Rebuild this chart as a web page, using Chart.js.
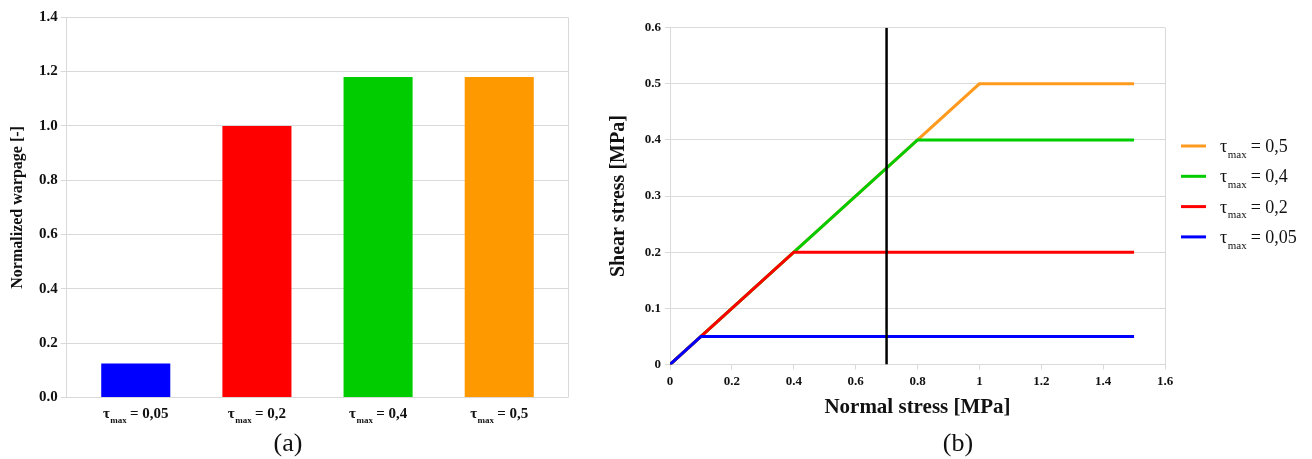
<!DOCTYPE html>
<html><head><meta charset="utf-8">
<script src="https://cdn.jsdelivr.net/npm/chart.js@4.4.1/dist/chart.umd.min.js"></script>
<style>
html,body{margin:0;padding:0;background:#fff;width:1312px;height:459px;overflow:hidden}
#wa{position:absolute;left:0;top:0;width:576px;height:459px}
#wb{position:absolute;left:604px;top:0;width:708px;height:459px}
.cap{position:absolute;top:443px;font-family:"Liberation Serif","Times New Roman",serif;font-size:26px;line-height:30px;color:#111;transform:translate(-50%,-50%);white-space:nowrap}
</style></head><body>
<div id="wa"><canvas id="ca"></canvas></div>
<div id="wb"><canvas id="cb"></canvas></div>
<div class="cap" style="left:288px">(a)</div>
<div class="cap" style="left:958px">(b)</div>
<script>
// ---------- data: chart (a) ----------
const warpCategories = ['0,05', '0,2', '0,4', '0,5'];
const warpValues = [0.125, 1.0, 1.18, 1.18];
const warpTicks = [0, 0.2, 0.4, 0.6, 0.8, 1.0, 1.2, 1.4];
// ---------- data: chart (b) ----------
const tau05X = [0, 1.0, 1.5],  tau05Y = [0, 0.5, 0.5];
const tau04X = [0, 0.8, 1.5],  tau04Y = [0, 0.4, 0.4];
const tau02X = [0, 0.4, 1.5],  tau02Y = [0, 0.2, 0.2];
const tau005X = [0, 0.1, 1.5], tau005Y = [0, 0.05, 0.05];
const markerX = [0.7, 0.7],    markerY = [0, 0.6];

// ---------- styles ----------
const SERIF = '"Liberation Serif", "Times New Roman", serif';
const GRID = '#d9d9d9';
const TXT = '#111';
const warpColors = ['#0000ff', '#ff0000', '#00cc00', '#ff9900'];

Chart.defaults.font.family = SERIF;
Chart.defaults.color = TXT;

function pts(xs, ys) { return xs.map((x, i) => ({x: x, y: ys[i]})); }

function drawTau(ctx, x, y, value, size, bold, align) {
  const w = bold ? 'bold ' : '';
  const main = w + size + 'px ' + SERIF;
  const sub = w + Math.round(size * 0.62) + 'px ' + SERIF;
  ctx.font = main; const w1 = ctx.measureText('τ').width;
  ctx.font = sub;  const w2 = ctx.measureText('max').width;
  const rest = ' = ' + value;
  ctx.font = main; const w3 = ctx.measureText(rest).width;
  const total = w1 + w2 + w3;
  const x0 = align === 'center' ? x - total / 2 : x;
  ctx.fillStyle = TXT;
  ctx.textAlign = 'left'; ctx.textBaseline = 'alphabetic';
  ctx.font = main; ctx.fillText('τ', x0, y);
  ctx.font = sub;  ctx.fillText('max', x0 + w1 + 0.5, y + size * 0.32);
  ctx.font = main; ctx.fillText(rest, x0 + w1 + w2, y);
}

const framePlugin = {
  id: 'frame',
  beforeDatasetsDraw(chart) {
    const {ctx, chartArea: a} = chart;
    ctx.save();
    ctx.strokeStyle = GRID; ctx.lineWidth = 1;
    const xr = Math.round(a.right) + 0.5;
    ctx.beginPath(); ctx.moveTo(xr, a.top); ctx.lineTo(xr, a.bottom); ctx.stroke();
    ctx.restore();
  }
};

// ---------- chart (a) ----------
const catLabelPlugin = {
  id: 'catLabels',
  afterDraw(chart) {
    const {ctx, chartArea: a} = chart;
    const xs = chart.scales.x;
    ctx.save();
    warpCategories.forEach((c, i) => {
      drawTau(ctx, xs.getPixelForValue(i), a.bottom + 20.5, c, 15, true, 'center');
    });
    ctx.restore();
  }
};

new Chart(document.getElementById('ca'), {
  type: 'bar',
  data: {
    datasets: [{
      data: warpValues.map((v, i) => ({x: i, y: v})),
      backgroundColor: warpColors,
      borderWidth: 0,
      categoryPercentage: 1,
      barPercentage: 0.57
    }]
  },
  options: {
    responsive: true, maintainAspectRatio: false, animation: false,
    layout: {padding: {top: 17.3, right: 7.7, left: 0, bottom: 31.2}},
    plugins: {legend: {display: false}, tooltip: {enabled: false}},
    scales: {
      x: {type: 'linear', min: -0.57, max: 3.57, offset: false,
        ticks: {display: false, stepSize: 1, includeBounds: false},
        grid: {display: false}, border: {display: false},
        afterFit(s) { s.height = 30.3; }},
      y: {min: 0, max: 1.4,
        afterBuildTicks(s) { s.ticks = warpTicks.map(v => ({value: v})); },
        ticks: {callback: v => Number(v).toFixed(1), font: {size: 15, weight: 'bold'}, color: TXT, padding: 3},
        grid: {color: GRID, tickLength: 6}, border: {color: GRID},
        title: {display: true, text: 'Normalized warpage [-]', color: TXT,
          font: {size: 16, weight: 'bold'}, padding: {top: 8, bottom: 0}},
        afterFit(s) { s.width = 66.7; }}
    }
  },
  plugins: [framePlugin, catLabelPlugin]
});

// ---------- chart (b) ----------
const legendPlugin = {
  id: 'tauLegend',
  afterDraw(chart) {
    const {ctx, chartArea: a} = chart;
    const items = chart.data.datasets.filter(d => d.tau).slice().reverse();
    ctx.save();
    items.forEach((d, i) => {
      const y = 146 + 30.3 * i;
      ctx.strokeStyle = d.borderColor; ctx.lineWidth = 3;
      ctx.beginPath(); ctx.moveTo(a.right + 16, y); ctx.lineTo(a.right + 41, y); ctx.stroke();
      drawTau(ctx, a.right + 55, y + 6, d.tau, 18, false, 'left');
    });
    ctx.restore();
  }
};

new Chart(document.getElementById('cb'), {
  type: 'scatter',
  data: {
    datasets: [
      {data: pts(markerX, markerY), borderColor: '#000000', borderWidth: 2.5, showLine: true},
      {tau: '0,05', data: pts(tau005X, tau005Y), borderColor: '#0000ff', borderWidth: 3, showLine: true},
      {tau: '0,2', data: pts(tau02X, tau02Y), borderColor: '#ff0000', borderWidth: 3, showLine: true},
      {tau: '0,4', data: pts(tau04X, tau04Y), borderColor: '#00cc00', borderWidth: 3, showLine: true},
      {tau: '0,5', data: pts(tau05X, tau05Y), borderColor: '#ff9a1e', borderWidth: 3, showLine: true}
    ]
  },
  options: {
    responsive: true, maintainAspectRatio: false, animation: false,
    layout: {padding: {top: 27.7, right: 147, left: 0, bottom: 31.2}},
    elements: {point: {radius: 0, hoverRadius: 0}, line: {tension: 0}},
    plugins: {legend: {display: false}, tooltip: {enabled: false}},
    scales: {
      x: {type: 'linear', min: 0, max: 1.6,
        ticks: {stepSize: 0.2, callback: v => String(Math.round(v * 10) / 10),
          font: {size: 13, weight: 'bold'}, color: TXT, padding: 4.5, maxRotation: 0},
        grid: {drawOnChartArea: false, color: GRID, tickLength: 5}, border: {color: GRID},
        title: {display: true, text: 'Normal stress [MPa]', color: TXT,
          font: {size: 21, weight: 'bold'}, padding: {top: 0, bottom: 7.3}},
        afterFit(s) { s.height = 63.3; }},
      y: {min: 0, max: 0.6,
        ticks: {stepSize: 0.1, callback: v => String(Math.round(v * 10) / 10),
          font: {size: 13, weight: 'bold'}, color: TXT, padding: 4},
        grid: {color: GRID, tickLength: 5}, border: {color: GRID},
        title: {display: true, text: 'Shear stress [MPa]', color: TXT,
          font: {size: 20, weight: 'bold'}, padding: {top: 3, bottom: 0}},
        afterFit(s) { s.width = 66; }}
    }
  },
  plugins: [framePlugin, legendPlugin]
});
</script>
</body></html>
